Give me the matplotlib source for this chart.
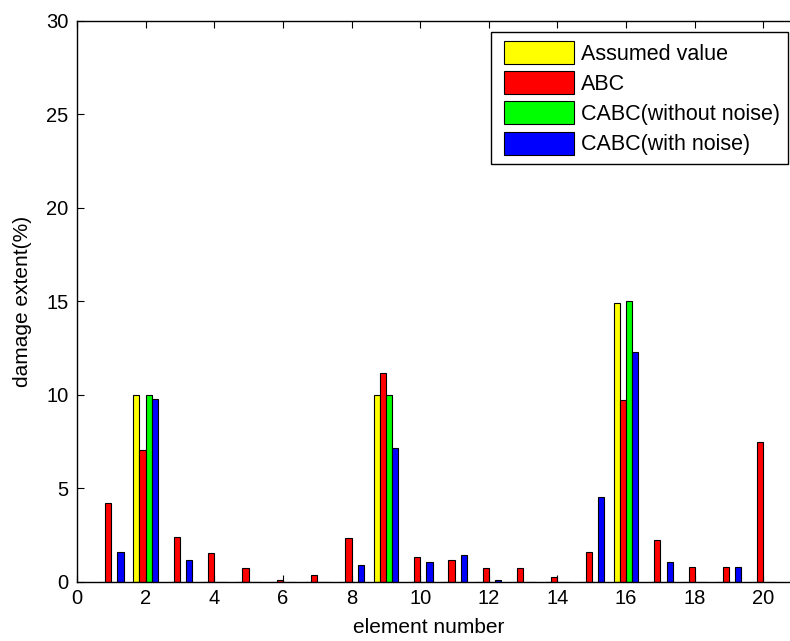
import numpy as np
import matplotlib
matplotlib.use("Agg")
import matplotlib.pyplot as plt
from matplotlib.legend_handler import HandlerPatch
from matplotlib.container import BarContainer

plt.rcParams['font.family'] = ['Liberation Sans', 'DejaVu Sans']

# numero de elemento y dano de cada metodo (%)
elementos = np.arange(1, 21)
supuesto = [0, 10, 0, 0, 0, 0, 0, 0, 10, 0, 0, 0, 0, 0, 0, 14.9, 0, 0, 0, 0]
abc = [4.19, 7.04, 2.41, 1.52, 0.72, 0.08, 0.36, 2.32, 11.14, 1.34,
       1.16, 0.72, 0.72, 0.27, 1.6, 9.72, 2.23, 0.8, 0.8, 7.47]
cabc_sin = [0, 10, 0, 0, 0, 0, 0, 0, 10, 0, 0, 0, 0, 0, 0, 15, 0, 0, 0, 0]
cabc_con = [1.6, 9.77, 1.16, 0, 0, 0, 0, 0.89, 7.13, 1.07,
            1.43, 0.1, 0, 0, 4.55, 12.3, 1.07, 0, 0.8, 0]

series = [supuesto, abc, cabc_sin, cabc_con]
nombres = ["Assumed value", "ABC", "CABC(without noise)", "CABC(with noise)"]
colores = [(1, 1, 0), (1, 0, 0), (0, 1, 0), (0, 0, 1)]
desp = [-0.27, -0.09, 0.09, 0.27]
ancho = 0.18

fig = plt.figure(figsize=(7.9, 6.41), dpi=100)
ax = fig.add_axes([77/790, 59.3/641, 720.7/790, 561/641])

for s, n, c, d in zip(series, nombres, colores, desp):
    ax.bar(elementos + d, s, ancho, color=c, edgecolor='black', linewidth=0.8, label=n)

ax.set_xlim(0, 21)
ax.set_ylim(0, 30)
ax.set_xticks(np.arange(0, 21, 2))
ax.set_yticks(np.arange(0, 31, 5))
ax.tick_params(direction='in', length=4.7, width=0.8, top=True, right=True, labelsize=14.5)
ax.tick_params(axis='x', pad=5)
ax.tick_params(axis='y', pad=6)
for sp in ax.spines.values():
    sp.set_linewidth(1.0)

ax.set_xlabel("element number", fontsize=15)
ax.set_ylabel("damage extent(%)", fontsize=15)
ax.xaxis.set_label_coords(0.4877, -0.064)
ax.yaxis.set_label_coords(-0.062, 0.5)

# leyenda con cuadros de color anchos
def primer_hijo(legend_handle, orig_handle):
    legend_handle.update_from(orig_handle.patches[0])

leg = ax.legend(loc='upper right', bbox_to_anchor=(788.3/790, 1 - 32.3/641),
                bbox_transform=fig.transFigure, borderaxespad=0, fontsize=15.5,
                fancybox=False, framealpha=1, edgecolor='black',
                handlelength=3.46, handleheight=1.27, handletextpad=0.31,
                labelspacing=0.3, borderpad=0.4,
                handler_map={BarContainer: HandlerPatch(xpad=0.2, update_func=primer_hijo)})
leg.get_frame().set_linewidth(1.0)

fig.savefig("out.png", dpi=100)
